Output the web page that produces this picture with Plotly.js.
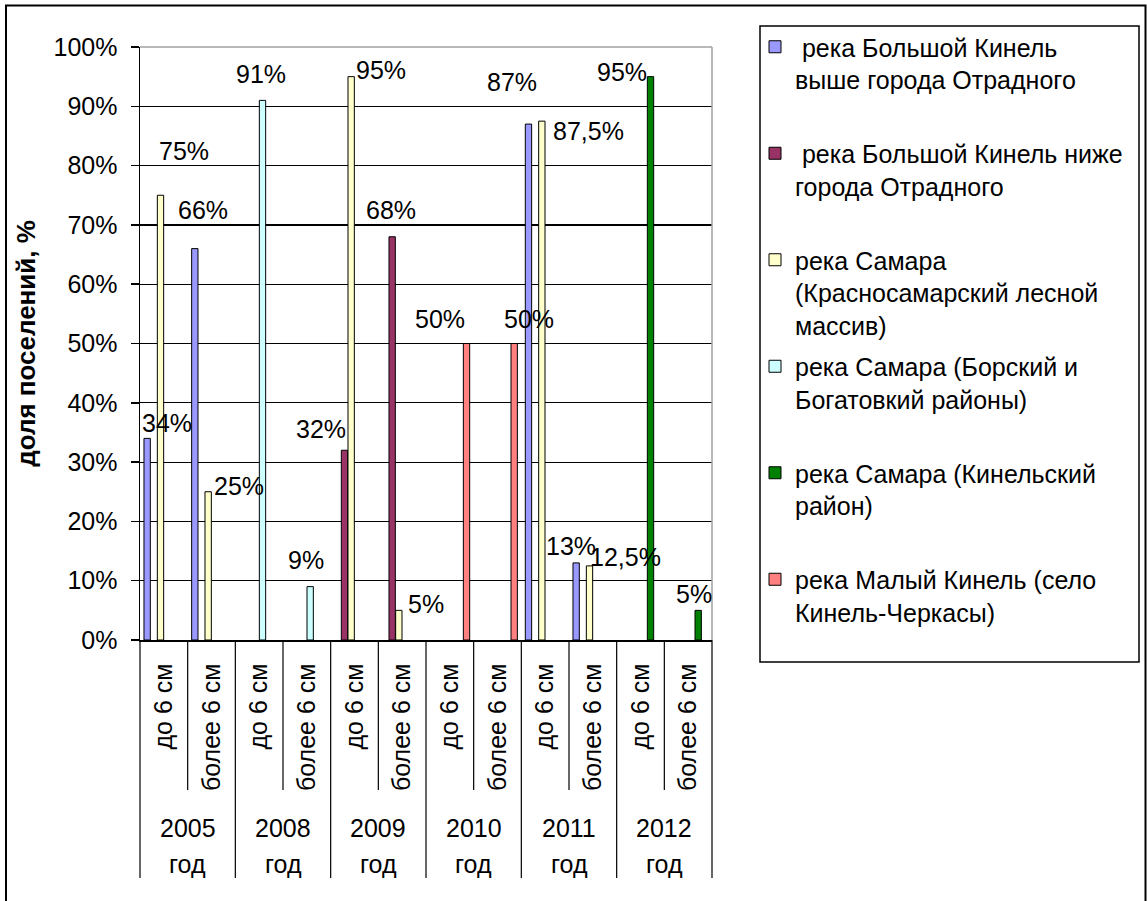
<!DOCTYPE html>
<html>
<head>
<meta charset="utf-8">
<script src="https://cdn.plot.ly/plotly-3.0.1.min.js"></script>
<style>html,body{margin:0;padding:0;background:#fff;}#chart{width:1147px;height:901px;}</style>
</head>
<body>
<div id="chart"></div>
<script>
// ---------- data ----------
const years = ['2005', '2008', '2009', '2010', '2011', '2012'];
const yearWord = 'год';
const sizes = ['до 6 см', 'более 6 см'];

const seriesNames = [
  '\u00a0река Большой Кинель<br>выше города Отрадного',
  '\u00a0река Большой Кинель ниже<br>города Отрадного',
  'река Самара<br>(Красносамарский лесной<br>массив)',
  'река Самара (Борский и<br>Богатовкий районы)',
  'река Самара (Кинельский<br>район)',
  'река Малый Кинель (село<br>Кинель-Черкасы)'
];
const seriesColors = ['#9999FF', '#993366', '#FFFFCC', '#CCFFFF', '#008000', '#FF8080'];

// values, %, one per category (year x size)
const valBolshoyKinelUpper = [34, 66, null, null, null, null, null, null, 87, 13, null, null];
const valBolshoyKinelLower = [null, null, null, null, 32, 68, null, null, null, null, null, null];
const valSamaraKrasnosamarsky = [75, 25, null, null, 95, 5, null, null, 87.5, 12.5, null, null];
const valSamaraBorsky = [null, null, 91, 9, null, null, null, null, null, null, null, null];
const valSamaraKinelsky = [null, null, null, null, null, null, null, null, null, null, 95, 5];
const valMalyKinel = [null, null, null, null, null, null, 50, 50, null, null, null, null];

const seriesValues = [valBolshoyKinelUpper, valBolshoyKinelLower, valSamaraKrasnosamarsky,
                      valSamaraBorsky, valSamaraKinelsky, valMalyKinel];

// ---------- layout constants ----------
const W = 1147, H = 901;
const PL = 140, PR = 712, PT = 47, PB = 640;
const FONT = 'Arial, "Liberation Sans", sans-serif';
const FS = 25;
const BARGAP = 0.16;

// manual label nudges (screen px) as in the original picture, keyed "series-category"
const labelNudge = {
  '0-0': [20, -15], '2-0': [23, -44], '0-1': [8, -39], '2-1': [31, -6],
  '3-2': [-1.5, -26], '3-3': [-4, -27], '1-4': [-23.5, -21], '2-4': [30, -7],
  '1-5': [-1, -27], '2-5': [27, -6], '5-6': [-26.5, -24.5], '5-7': [15, -24.5],
  '0-8': [-16.5, -42], '2-8': [47, 10], '0-9': [-5.5, -17], '2-9': [36, -9],
  '4-10': [-29, -5], '4-11': [-4, -16]
};

const px2pxX = p => (p - PL) / (PR - PL);
const px2pyY = p => (PB - p) / (PB - PT);

const catLabels = [];
years.forEach(y => sizes.forEach(s => catLabels.push(s)));
const xIdx = catLabels.map((_, i) => i);
const nCat = catLabels.length;
const nSer = seriesValues.length;

const traces = seriesValues.map((vals, k) => ({
  type: 'bar',
  x: xIdx,
  y: vals,
  name: seriesNames[k] + (seriesNames[k].split('<br>').length < 3 ? '<br>\u00a0' : ''),
  legendgroup: 'g' + k,
  marker: {color: seriesColors[k], line: {color: '#000', width: 1}},
  hoverinfo: 'skip'
}));

const annotations = [];
// data labels
const slot = (1 - BARGAP) / nSer;
seriesValues.forEach((vals, k) => {
  vals.forEach((v, i) => {
    if (v === null) return;
    const nudge = labelNudge[k + '-' + i] || [0, -20];
    annotations.push({
      x: i + (k - (nSer - 1) / 2) * slot, y: v, xref: 'x', yref: 'y',
      xanchor: 'center', yanchor: 'middle',
      text: String(v).replace('.', ',') + '%', showarrow: false,
      xshift: nudge[0], yshift: -nudge[1],
      font: {family: FONT, size: FS, color: '#000'}
    });
  });
});
// year labels
years.forEach((y, g) => {
  const xc = g * sizes.length + (sizes.length - 1) / 2;
  annotations.push({x: xc, y: px2pyY(828), xref: 'x', yref: 'paper', xanchor: 'center', yanchor: 'middle',
    text: y, showarrow: false, font: {family: FONT, size: FS, color: '#000'}});
  annotations.push({x: xc, y: px2pyY(864), xref: 'x', yref: 'paper', xanchor: 'center', yanchor: 'middle',
    text: yearWord, showarrow: false, font: {family: FONT, size: FS, color: '#000'}});
});

const shapes = [];
// inner dividers under each category, longer between years
for (let b = 0; b <= nCat; b++) {
  const isYear = b % sizes.length === 0;
  shapes.push({type: 'line', xref: 'paper', yref: 'paper', x0: b / nCat, x1: b / nCat,
    y0: 0, y1: px2pyY(isYear ? 878 : 790), line: {color: '#000', width: 1.2}});
}
// plot-area frame (top and right, gray)
shapes.push({type: 'line', xref: 'paper', yref: 'paper', x0: 0, x1: 1, y0: 1, y1: 1, line: {color: '#A0A0A0', width: 1.5}});
shapes.push({type: 'line', xref: 'paper', yref: 'paper', x0: 1, x1: 1, y0: 0, y1: 1, line: {color: '#A0A0A0', width: 1.5}});
// legend frame
shapes.push({type: 'rect', xref: 'paper', yref: 'paper', x0: px2pxX(760), x1: px2pxX(1139),
  y0: px2pyY(662), y1: px2pyY(26), line: {color: '#000', width: 1.5}, fillcolor: 'rgba(0,0,0,0)'});
// chart outer frame
shapes.push({type: 'rect', xref: 'paper', yref: 'paper', x0: px2pxX(6), x1: px2pxX(1145.5),
  y0: px2pyY(910), y1: px2pyY(5.5), line: {color: '#000', width: 2}, fillcolor: 'rgba(0,0,0,0)'});

const layout = {
  width: W, height: H,
  margin: {l: PL, r: W - PR, t: PT, b: H - PB, pad: 0},
  paper_bgcolor: '#fff', plot_bgcolor: '#fff',
  font: {family: FONT, size: FS, color: '#000'},
  barmode: 'group', bargap: BARGAP, bargroupgap: 0.05,
  showlegend: true,
  legend: {
    x: px2pxX(755), xanchor: 'left', y: px2pyY(24), yanchor: 'top',
    font: {family: FONT, size: FS, color: '#000'},
    bgcolor: 'rgba(0,0,0,0)', borderwidth: 0, maxheight: 860,
    tracegroupgap: 6, valign: 'top', traceorder: 'grouped'
  },
  xaxis: {
    type: 'linear', range: [-0.5, nCat - 0.5], fixedrange: true,
    tickvals: xIdx, ticktext: catLabels, tickangle: -90,
    ticks: '', showgrid: false, zeroline: false,
    showline: true, linecolor: '#000', linewidth: 1.5,
    tickfont: {family: FONT, size: FS, color: '#000'},
    ticklabelstandoff: 12
  },
  yaxis: {
    range: [0, 100], dtick: 10, ticksuffix: '%', fixedrange: true,
    ticks: 'outside', ticklen: 8, tickcolor: '#000', tickwidth: 1.5,
    showgrid: true, gridcolor: '#000', gridwidth: 1.2, zeroline: false,
    showline: true, linecolor: '#000', linewidth: 1.5,
    tickfont: {family: FONT, size: FS, color: '#000'},
    ticklabelstandoff: 8,
    title: {text: '<b>доля поселений, %</b>', font: {family: FONT, size: 26, color: '#000'}, standoff: 10}
  },
  annotations: annotations,
  shapes: shapes
};

Plotly.newPlot('chart', traces, layout, {staticPlot: true, displayModeBar: false});
</script>
</body>
</html>
